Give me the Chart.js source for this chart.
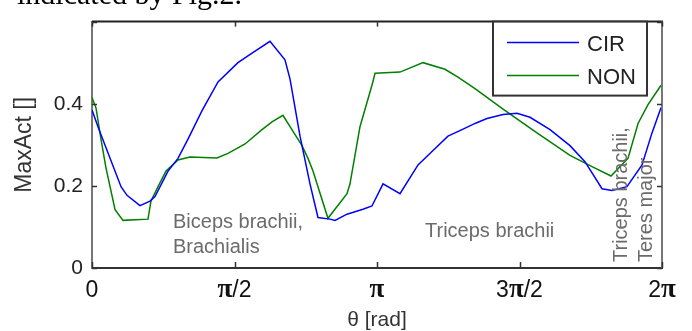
<!DOCTYPE html>
<html><head><meta charset="utf-8">
<script src="https://cdn.jsdelivr.net/npm/chart.js@4"></script>
<style>
html,body{margin:0;padding:0;background:#fff;overflow:hidden;}
#wrap{position:relative;width:692px;height:331px;overflow:hidden;}
#cap{position:absolute;left:17px;top:-21px;font:30px/30px "Liberation Serif",serif;color:#000;white-space:nowrap;z-index:2;}
canvas{position:absolute;left:0;top:0;}
</style></head><body>
<div id="wrap"><canvas id="c" width="692" height="331"></canvas><div id="cap">indicated by Fig.2.</div></div>
<script>
const seriesNames = ['CIR', 'NON'];
const seriesColors = ['#0000ff', '#008000'];
const cirTheta = [0.00,0.077,0.32,0.386,0.529,0.639,0.694,0.838,0.948,1.058,1.213,1.389,1.609,1.764,1.962,2.127,2.183,2.293,2.403,2.491,2.623,2.679,2.811,2.987,3.086,3.208,3.395,3.594,3.759,3.924,4.079,4.222,4.354,4.531,4.685,4.828,5.049,5.269,5.434,5.622,5.732,5.897,6.063,6.173,6.273];
const cirValues = [0.385,0.337,0.198,0.177,0.152,0.163,0.174,0.236,0.267,0.314,0.383,0.453,0.50,0.523,0.552,0.507,0.46,0.321,0.205,0.123,0.119,0.116,0.131,0.143,0.151,0.205,0.181,0.251,0.286,0.321,0.337,0.352,0.364,0.374,0.377,0.367,0.337,0.298,0.259,0.193,0.189,0.198,0.251,0.329,0.391];
const nonTheta = [0.00,0.044,0.099,0.154,0.254,0.342,0.617,0.65,0.728,0.816,0.948,1.08,1.378,1.499,1.687,1.874,1.984,2.105,2.183,2.315,2.381,2.436,2.601,2.811,2.844,2.954,3.086,3.12,3.395,3.649,3.891,4.034,4.222,4.531,4.905,5.269,5.512,5.721,5.908,6.019,6.129,6.273];
const nonValues = [0.415,0.39,0.314,0.244,0.142,0.116,0.119,0.163,0.198,0.236,0.263,0.27,0.268,0.279,0.302,0.337,0.356,0.372,0.344,0.298,0.267,0.236,0.121,0.181,0.205,0.344,0.445,0.474,0.477,0.50,0.484,0.465,0.437,0.387,0.329,0.274,0.247,0.224,0.267,0.352,0.398,0.445];
const xTickValues = [0, Math.PI/2, Math.PI, 3*Math.PI/2, 2*Math.PI];
const xTickLabels = ['0', 'π/2', 'π', '3π/2', '2π'];
const yTickValues = [0, 0.2, 0.4];
const yTickLabels = ['0', '0.2', '0.4'];
const yTickMarks = [0, 0.2, 0.4, 0.6];
const xTitle = 'θ [rad]';
const yTitle = 'MaxAct []';
const annotations = ['Biceps brachii,', 'Brachialis', 'Triceps brachii', 'Triceps brachii,', 'Teres major'];

const SANS = '"Liberation Sans", Arial, sans-serif';

const toPoints = (t, v) => t.map((x, i) => ({x: x, y: v[i]}));

const decor = {
  id: 'decor',
  afterDatasetsDraw(chart) {
    const ctx = chart.ctx;
    const a = chart.chartArea;
    const xs = chart.scales.x, ys = chart.scales.y;
    ctx.save();
    // box: top and right
    ctx.lineWidth = 2;
    ctx.strokeStyle = '#222';
    ctx.beginPath(); ctx.moveTo(a.left, a.top); ctx.lineTo(a.right + 1, a.top); ctx.stroke();
    ctx.strokeStyle = '#777';
    ctx.beginPath(); ctx.moveTo(a.right, a.top); ctx.lineTo(a.right, a.bottom); ctx.stroke();
    // inward ticks
    ctx.lineWidth = 1.5;
    ctx.strokeStyle = '#333';
    xTickValues.forEach(v => {
      const px = Math.round(xs.getPixelForValue(v)) + 0.5;
      ctx.beginPath(); ctx.moveTo(px, a.bottom); ctx.lineTo(px, a.bottom - 6); ctx.stroke();
      ctx.beginPath(); ctx.moveTo(px, a.top); ctx.lineTo(px, a.top + 5); ctx.stroke();
    });
    yTickMarks.forEach(v => {
      const py = Math.round(ys.getPixelForValue(v)) + 0.5;
      ctx.beginPath(); ctx.moveTo(a.left, py); ctx.lineTo(a.left + 5, py); ctx.stroke();
      ctx.beginPath(); ctx.moveTo(a.right, py); ctx.lineTo(a.right - 5, py); ctx.stroke();
    });
    // x tick labels with serif pi
    ctx.fillStyle = '#111';
    ctx.textBaseline = 'alphabetic';
    ctx.textAlign = 'left';
    const fSans = '23px ' + SANS;
    const fPi = 'bold 27px "Liberation Serif", serif';
    xTickValues.forEach((v, i) => {
      const parts = xTickLabels[i].split(/(π)/).filter(s => s.length);
      let w = 0;
      parts.forEach(p => { ctx.font = p === 'π' ? fPi : fSans; w += ctx.measureText(p).width; });
      let x = xs.getPixelForValue(v) - w / 2;
      const y = a.bottom + 29;
      parts.forEach(p => { ctx.font = p === 'π' ? fPi : fSans; ctx.fillText(p, x, y); x += ctx.measureText(p).width; });
    });
    // annotations
    ctx.fillStyle = '#6b6b6b';
    ctx.font = '20px ' + SANS;
    ctx.fillText(annotations[0], 173, 228);
    ctx.fillText(annotations[1], 173, 253);
    ctx.fillText(annotations[2], 425, 237);
    ctx.textBaseline = 'middle';
    [[annotations[3], 621], [annotations[4], 646]].forEach(([t, x]) => {
      ctx.save(); ctx.translate(x, 262); ctx.rotate(-Math.PI / 2); ctx.fillText(t, 0, 0); ctx.restore();
    });
    // legend
    const bx = a.right - 169, by = a.top, bw = 154, bh = 74;
    ctx.fillStyle = '#fff';
    ctx.fillRect(bx, by, bw, bh);
    ctx.lineWidth = 2;
    ctx.strokeStyle = '#333';
    ctx.strokeRect(bx, by, bw, bh);
    ctx.font = '22px ' + SANS;
    ctx.textBaseline = 'middle';
    chart.data.datasets.forEach((ds, i) => {
      const ly = by + 21 + i * 33;
      ctx.strokeStyle = ds.borderColor;
      ctx.lineWidth = 1.5;
      ctx.beginPath(); ctx.moveTo(bx + 14, ly); ctx.lineTo(bx + 86, ly); ctx.stroke();
      ctx.fillStyle = '#222';
      ctx.fillText(ds.label, bx + 94, ly + 2);
    });
    ctx.restore();
  }
};

new Chart(document.getElementById('c'), {
  type: 'line',
  data: {
    datasets: [
      {label: seriesNames[0], data: toPoints(cirTheta, cirValues), borderColor: seriesColors[0], borderWidth: 1.5, pointRadius: 0, tension: 0, fill: false},
      {label: seriesNames[1], data: toPoints(nonTheta, nonValues), borderColor: seriesColors[1], borderWidth: 1.5, pointRadius: 0, tension: 0, fill: false}
    ]
  },
  options: {
    responsive: false,
    animation: false,
    layout: {padding: {top: 11, right: 30, left: 0, bottom: 0}},
    plugins: {legend: {display: false}, tooltip: {enabled: false}, title: {display: false}},
    scales: {
      x: {
        type: 'linear', min: 0, max: 2 * Math.PI,
        afterBuildTicks: s => { s.ticks = xTickValues.map(v => ({value: v})); },
        afterFit: s => { s.height = 63; },
        ticks: {display: false},
        grid: {display: false, drawTicks: false},
        border: {display: true, color: '#333', width: 2},
        title: {display: true, text: xTitle, color: '#333', font: {family: SANS, size: 21}, padding: {top: 0, bottom: -2}}
      },
      y: {
        min: 0, max: 0.6,
        afterBuildTicks: s => { s.ticks = yTickValues.map(v => ({value: v})); },
        afterFit: s => { s.width = 92; },
        ticks: {
          padding: 9, color: '#222', font: {family: SANS, size: 21},
          callback: (v) => { const i = yTickValues.findIndex(t => Math.abs(t - v) < 1e-9); return i >= 0 ? yTickLabels[i] : ''; }
        },
        grid: {display: false, drawTicks: false},
        border: {display: true, color: '#777', width: 2},
        title: {display: true, text: yTitle, color: '#333', font: {family: SANS, size: 23}, padding: {top: 11, bottom: 0}}
      }
    }
  },
  plugins: [decor]
});
</script>
</body></html>
